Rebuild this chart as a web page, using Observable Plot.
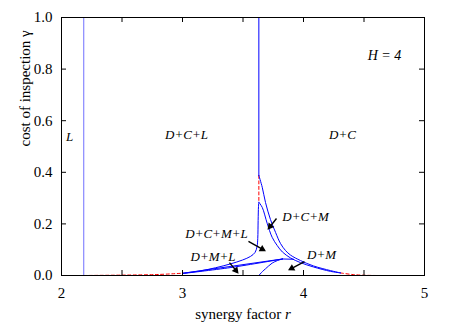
<!DOCTYPE html>
<html>
<head>
<meta charset="utf-8">
<script src="https://cdn.jsdelivr.net/npm/d3@7"></script>
<script src="https://cdn.jsdelivr.net/npm/@observablehq/plot@0.6"></script>
<style>
  body { margin: 0; background: white; }
</style>
</head>
<body>
<div id="chart"></div>
<script>
// ---- tick values ----
const xTicks = [2, 2.5, 3, 3.5, 4, 4.5, 5];
const xTickLabels = [2, 3, 4, 5];
const yTicks = [0, 0.2, 0.4, 0.6, 0.8, 1.0];

// ---- phase boundaries [r, gamma] ----
const lineL = [[2.184, 0], [2.184, 1]];
const lineTop = [[3.631, 1], [3.631, 0.388]];
const outerCurve = [[3.631,0.388],[3.659,0.342],[3.686,0.283],[3.727,0.217],[3.769,0.167],[3.810,0.124],[3.851,0.097],[3.893,0.079],[3.975,0.058],[4.083,0.037],[4.223,0.019],[4.306,0.010]];
const innerCurve = [[3.631,0.284],[3.659,0.264],[3.700,0.202],[3.741,0.148],[3.783,0.116],[3.826,0.091],[3.893,0.068],[3.975,0.050],[4.083,0.033],[4.223,0.016],[4.306,0.010]];
const leftCurve = [[3.008,0.009],[3.149,0.018],[3.273,0.030],[3.397,0.045],[3.496,0.060],[3.562,0.074],[3.599,0.089],[3.616,0.112],[3.622,0.143],[3.625,0.213],[3.628,0.267],[3.631,0.284]];
const wedgeUpper = [[3.008,0.009],[3.826,0.064]];
const wedgeLower = [[3.008,0.008],[3.400,0.031],[3.826,0.064]];
const arcCurve = [[3.631,0],[3.661,0.0155],[3.686,0.026],[3.741,0.048],[3.785,0.058],[3.826,0.064]];
const junction = [[3.826,0.064],[3.917,0.063]];
// ---- dashed (red) boundaries ----
const dashLeft = [[2.184,0],[2.5,0.0015],[2.8,0.004],[3.008,0.009]];
const dashMid = [[3.631,0.388],[3.631,0.284]];
const dashRight = [[4.306,0.010],[4.4,0.004],[4.5,0.001],[4.6,0]];

// ---- region labels ----
const regionNames = ["L", "D+C+L", "D+C", "D+C+M", "D+C+M+L", "D+M+L", "D+M"];
const regionR = [2.066, 3.033, 4.322, 4.017, 3.281, 3.252, 4.149];
const regionG = [0.539, 0.547, 0.547, 0.229, 0.163, 0.074, 0.081];
const annotText = ["H = 4"];
const annotR = [4.669];
const annotG = [0.853];

// ---- arrows [r1, g1, r2, g2] ----
const arrows = [
  [3.777, 0.221, 3.711, 0.182],
  [3.545, 0.132, 3.678, 0.097],
  [3.388, 0.050, 3.455, 0.012],
  [4.008, 0.054, 3.884, 0.023]
];

const serif = "'Liberation Serif', 'Times New Roman', 'DejaVu Serif', serif";
const W = 463, H = 328;
const mL = 61, mR = 39, mT = 17, mB = 53;
const pxX = (W - mL - mR) / 3;   // px per unit r
const pxY = (H - mT - mB) / 1;   // px per unit gamma
const tkX = 5 / pxX, tkY = 5 / pxY;

const regions = regionNames.map((t, i) => ({t, r: regionR[i], g: regionG[i]}));
const annots = annotText.map((t, i) => ({t, r: annotR[i], g: annotG[i]}));

// arrowhead placement (filled triangles), derived from arrow data
const heads = arrows.map(a => {
  const dxp = (a[2] - a[0]) * pxX, dyp = -(a[3] - a[1]) * pxY;
  const len = Math.hypot(dxp, dyp);
  const back = 2.6;
  return {
    r: a[2] - (dxp / len) * back / pxX,
    g: a[3] + (dyp / len) * back / pxY,
    ang: Math.atan2(dxp, -dyp) * 180 / Math.PI
  };
});

const blue = "#0000ff";
const lineOpts = {x: d => d[0], y: d => d[1], stroke: blue, strokeWidth: 1, curve: "catmull-rom"};
const dashOpts = {x: d => d[0], y: d => d[1], stroke: "#ff0000", strokeWidth: 1, strokeDasharray: "3,2.5", curve: "catmull-rom"};

const chart = Plot.plot({
  width: W, height: H,
  marginLeft: mL, marginRight: mR, marginTop: mT, marginBottom: mB,
  style: {fontFamily: serif, background: "white", color: "black"},
  x: {domain: [2, 5], axis: null},
  y: {domain: [0, 1], axis: null},
  marks: [
    Plot.line(dashLeft, dashOpts),
    Plot.line(dashMid, {...dashOpts, curve: "linear"}),
    Plot.line(dashRight, dashOpts),
    Plot.line(lineL, {...lineOpts, stroke: "#7070ff", curve: "linear"}),
    Plot.line(lineTop, {...lineOpts, curve: "linear"}),
    Plot.line(outerCurve, lineOpts),
    Plot.line(innerCurve, lineOpts),
    Plot.line(leftCurve, lineOpts),
    Plot.line(wedgeUpper, {...lineOpts, curve: "linear"}),
    Plot.line(wedgeLower, lineOpts),
    Plot.line(arcCurve, lineOpts),
    Plot.line(junction, {...lineOpts, curve: "linear"}),
    Plot.link(arrows, {x1: d => d[0], y1: d => d[1], x2: d => d[2], y2: d => d[3], stroke: "black", strokeWidth: 1.4}),
    Plot.dot(heads, {x: "r", y: "g", rotate: "ang", symbol: "triangle", r: 2.7, fill: "black", stroke: "none"}),
    // ticks (inward, mirrored)
    Plot.ruleX(xTicks, {x: d => d, y1: 0, y2: tkY, stroke: "black"}),
    Plot.ruleX(xTicks, {x: d => d, y1: 1, y2: 1 - tkY, stroke: "black"}),
    Plot.ruleY(yTicks, {y: d => d, x1: 2, x2: 2 + tkX, stroke: "black"}),
    Plot.ruleY(yTicks, {y: d => d, x1: 5, x2: 5 - tkX, stroke: "black"}),
    Plot.frame({stroke: "black", strokeWidth: 1}),
    // tick labels
    Plot.text(xTickLabels, {x: d => d, y: 0, dy: 18, text: d => String(d), fontSize: 15, fill: "black"}),
    Plot.text(yTicks, {x: 2, y: d => d, dx: -9, textAnchor: "end", text: d => d.toFixed(1), fontSize: 15, fill: "black"}),
    // axis titles
    Plot.text(["synergy factor r"], {frameAnchor: "bottom", dy: 43, text: d => d, fontSize: 15, fill: "black"}),
    Plot.text(["cost of inspection \u03b3"], {frameAnchor: "left", dx: -36, rotate: -90, text: d => d, fontSize: 15, fill: "black"}),
    // region labels
    Plot.text(regions, {x: "r", y: "g", text: "t", fontStyle: "italic", fontSize: 13, fill: "black"}),
    Plot.text(annots, {x: "r", y: "g", text: "t", fontStyle: "italic", fontSize: 14, fill: "black"})
  ]
});

// italic r in x title
d3.select(chart).selectAll("text").filter(function() { return this.textContent === "synergy factor r"; })
  .each(function() {
    const el = d3.select(this);
    el.text("synergy factor ");
    el.append("tspan").attr("font-style", "italic").text("r");
  });

document.getElementById("chart").appendChild(chart);
</script>
</body>
</html>
